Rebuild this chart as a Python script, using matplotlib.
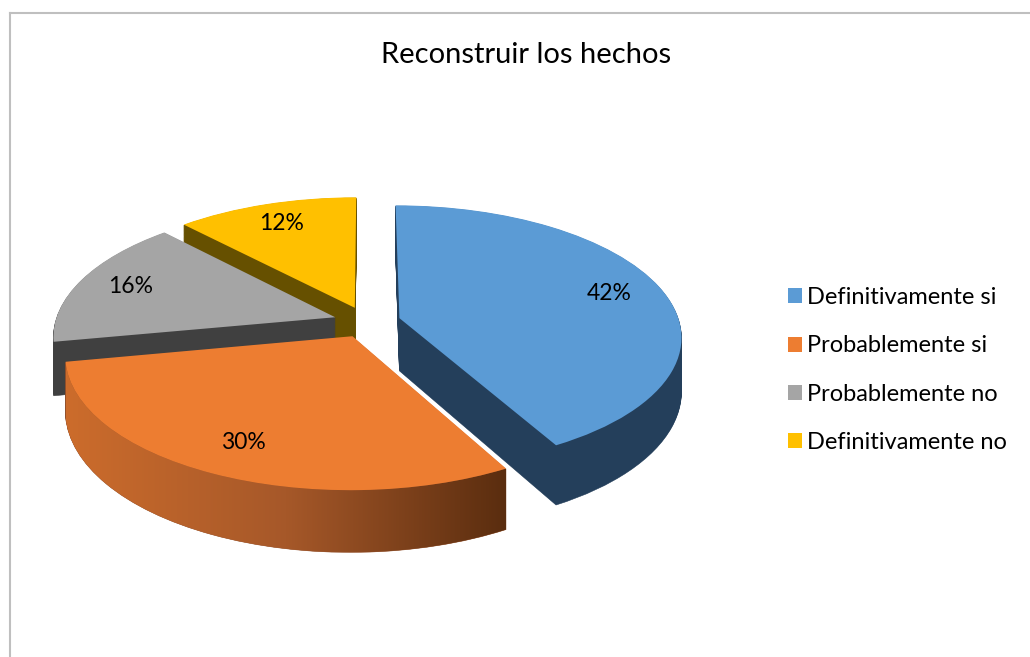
import numpy as np
import matplotlib
matplotlib.use("Agg")
import matplotlib.pyplot as plt
import matplotlib.transforms as mtransforms
from matplotlib.colors import LinearSegmentedColormap
from matplotlib.lines import Line2D
from matplotlib.path import Path
from matplotlib.patches import PathPatch

title = "Reconstruir los hechos"
labels = ["Definitivamente si", "Probablemente si", "Probablemente no", "Definitivamente no"]
values = [42, 30, 16, 12]
top_colors = ["#5B9BD5", "#ED7D31", "#A5A5A5", "#FFC000"]
side_colors = ["#243F5B", "#93502A", "#404040", "#665000"]
explode = [0.12, 0.12, 0.12, 0.12]

plt.rcParams["font.family"] = ["Lato", "DejaVu Sans"]


class Perspective(mtransforms.Transform):
    """Tilted-disc view: the back of the pie (y > 0) shrinks, z drops it down."""
    input_dims = 2
    output_dims = 2

    def __init__(self, k, z=0.0):
        super().__init__()
        self.k = k
        self.z = z

    def transform_non_affine(self, values):
        v = np.asarray(values, dtype=float)
        w = 1 + self.k * v[:, 1]
        return np.column_stack([v[:, 0] / w, (v[:, 1] - self.z) / w])


W, H = 1030, 657
fig = plt.figure(figsize=(W / 100, H / 100), dpi=100)
ax = fig.add_axes([0, 0, 1, 1])

CX, CY = 367, 322      # pie centre in pixels
RX, RY = 280, 129      # half axes in pixels
K = 0.135              # perspective strength
D = 0.41               # thickness (in RY units)
n_layers = 60

to_pix = mtransforms.Affine2D().scale(RX, -RY).translate(CX, CY) + ax.transData

# side walls: stack of darker pies going down
for k in range(n_layers, 0, -1):
    tr = Perspective(K, D * k / n_layers) + to_pix
    z = 1 + (n_layers - k) * 0.01
    wedges, _ = ax.pie(values, explode=explode, startangle=90, counterclock=False,
                       colors=side_colors, wedgeprops=dict(linewidth=0.4, zorder=z))
    for w in wedges:
        w.set_transform(tr)
        w.set_edgecolor(w.get_facecolor())

# top faces
persp_top = Perspective(K, 0.0)
top_wedges, _, autotexts = ax.pie(values, explode=explode, startangle=90, counterclock=False,
                                  colors=top_colors, autopct="%1.0f%%", pctdistance=0.8,
                                  wedgeprops=dict(linewidth=0, zorder=3),
                                  textprops=dict(fontsize=16.5, color="#000000", zorder=4))
for w in top_wedges:
    w.set_transform(persp_top + to_pix)
for t in autotexts:
    t.set_transform(persp_top + to_pix)

# shaded outer wall of the orange slice (horizontal gradient)
ow = top_wedges[1]
th = np.radians(np.linspace(ow.theta1, ow.theta2, 200))
cx, cy = ow.center
arc = np.column_stack([cx + ow.r * np.cos(th), cy + ow.r * np.sin(th)])
upper = (persp_top + mtransforms.Affine2D().scale(RX, -RY).translate(CX, CY)).transform(arc)
lower = (Perspective(K, D) + mtransforms.Affine2D().scale(RX, -RY).translate(CX, CY)).transform(arc)
verts = np.concatenate([upper, lower[::-1]])
wall = PathPatch(Path(verts), facecolor="none", edgecolor="none")
ax.add_patch(wall)
orange_cmap = LinearSegmentedColormap.from_list("oside", ["#CC6C2C", "#A65829", "#5A2D0F"])
grad = np.linspace(0, 1, 256).reshape(1, -1)
im = ax.imshow(grad, extent=(verts[:, 0].min(), verts[:, 0].max(), verts[:, 1].max(), verts[:, 1].min()),
               cmap=orange_cmap, aspect="auto", zorder=2.9, interpolation="bilinear")
im.set_clip_path(wall)

ax.set_aspect("auto")
ax.set_xlim(0, W)
ax.set_ylim(H, 0)
ax.axis("off")

fig.text(526 / W, 1 - 55 / H, title, ha="center", va="center", fontsize=21, color="#000000")

fig.legend(top_wedges, labels, loc="center left", bbox_to_anchor=(767 / W, 1 - 370 / H),
           frameon=False, fontsize=17, handlelength=0.6, handleheight=0.6,
           handletextpad=0.2, labelspacing=1.15)

# chart area border (top and left edges)
fig.add_artist(Line2D([9.5 / W, 1], [1 - 13 / H, 1 - 13 / H], color="#BFBFBF", lw=1.5))
fig.add_artist(Line2D([9.5 / W, 9.5 / W], [0, 1 - 13 / H], color="#BFBFBF", lw=1.5))

fig.savefig("out.png", dpi=100)
